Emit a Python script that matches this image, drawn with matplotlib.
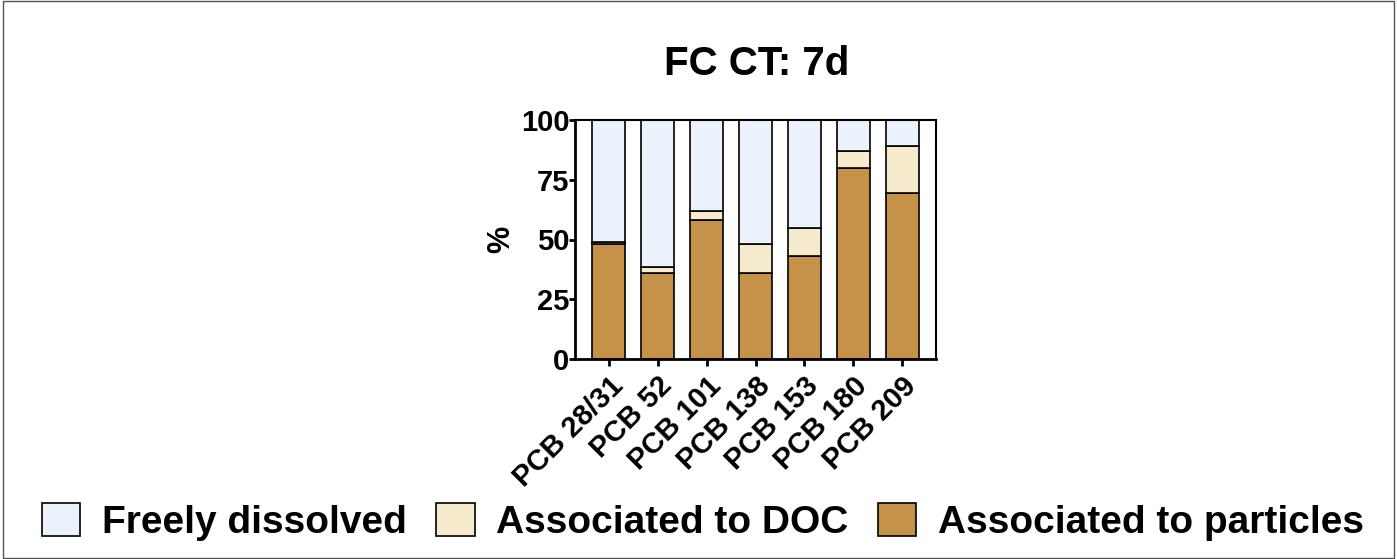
import numpy as np
import matplotlib.pyplot as plt
from matplotlib.patches import Rectangle

plt.rcParams['font.family'] = ['Liberation Sans', 'DejaVu Sans']
plt.rcParams['font.weight'] = 'bold'

compounds = ["PCB 28/31", "PCB 52", "PCB 101", "PCB 138", "PCB 153", "PCB 180", "PCB 209"]
particles = [48, 36, 58, 36, 43, 80, 69.5]
doc = [1, 2.5, 4, 12, 12, 7, 19.5]
freely = [100 - p - d for p, d in zip(particles, doc)]

c_free = "#ebf2fb"
c_doc = "#f6eccd"
c_part = "#c6924a"

fig = plt.figure(figsize=(13.97, 5.59), dpi=100)
ax = fig.add_axes([575 / 1397, 1 - 359 / 559, (936 - 575) / 1397, (359 - 120) / 559])

x = np.arange(len(compounds))
w = 0.67
b1 = ax.bar(x, particles, w, color=c_part, edgecolor="black", linewidth=1.2, label="Associated to particles")
b2 = ax.bar(x, doc, w, bottom=particles, color=c_doc, edgecolor="black", linewidth=1.2, label="Associated to DOC")
bot = [p + d for p, d in zip(particles, doc)]
b3 = ax.bar(x, freely, w, bottom=bot, color=c_free, edgecolor="black", linewidth=1.2, label="Freely dissolved")

ax.set_xlim(-0.69, len(compounds) - 1 + 0.69)
ax.set_ylim(0, 100)
ax.set_yticks([0, 25, 50, 75, 100])
ax.set_xticks(x)
ax.set_xticklabels(compounds, rotation=45, ha="right", rotation_mode="anchor", fontsize=21, fontweight="bold")
ax.tick_params(axis="y", labelsize=21, width=2, length=4, direction="out", pad=0)
ax.tick_params(axis="x", width=2, length=5, direction="out", pad=4)
for lbl in ax.get_yticklabels():
    lbl.set_fontweight("bold")
for s in ax.spines.values():
    s.set_linewidth(1.5)
ax.spines["left"].set_linewidth(2)
ax.spines["bottom"].set_linewidth(2)
ax.set_ylabel("%", fontsize=22, fontweight="bold", labelpad=3)

fig.text(0.542, 1 - 64 / 559, "FC CT: 7d", ha="center", va="center", fontsize=29, fontweight="bold")

fig.legend(handles=[b3, b2, b1], labels=["Freely dissolved", "Associated to DOC", "Associated to particles"],
           loc="center", bbox_to_anchor=(0.503, 1 - 522 / 559), ncol=3, frameon=False,
           prop={"size": 28, "weight": "bold"}, handlelength=1.0, handleheight=0.9,
           columnspacing=0.75, handletextpad=0.55)

fig.patches.append(Rectangle((0.002, 0.002), 0.996, 0.996, transform=fig.transFigure,
                             fill=False, edgecolor="#555555", linewidth=1))

fig.savefig("out.png", dpi=100)
